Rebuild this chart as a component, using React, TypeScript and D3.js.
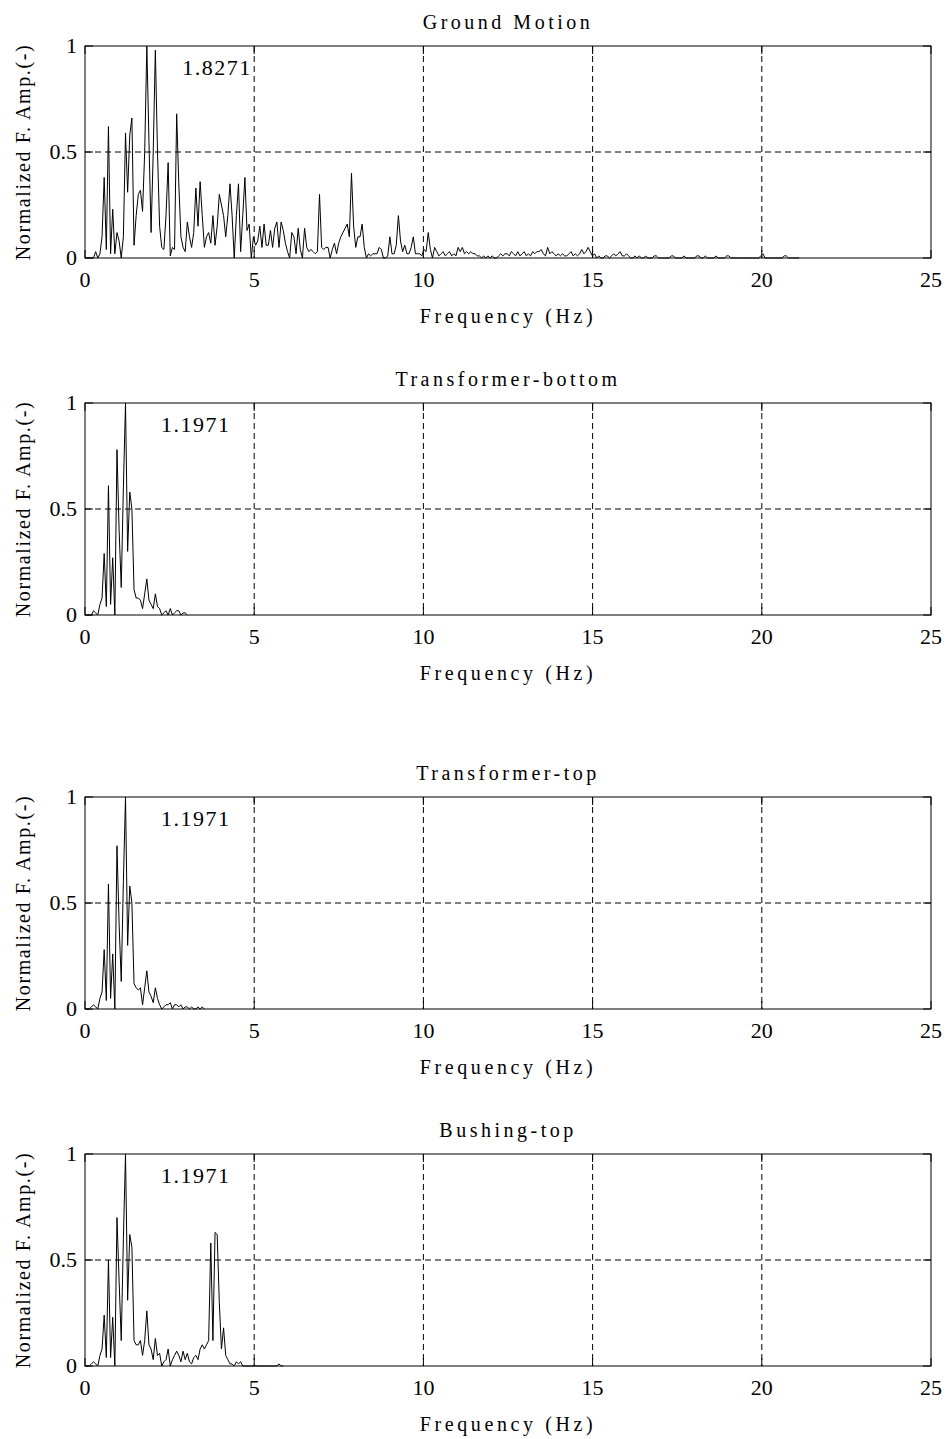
import React from 'react';
import * as d3 from 'd3';

// frequency resolution of the spectra (Hz per sample)
const DF = 0.063;

const groundMotion = [
  0, 0, 0, 0, 0, 0.03, 0, 0.02, 0.1, 0.38,
  0.04, 0.62, 0.02, 0.23, 0.02, 0.12, 0.08, 0, 0.1, 0.59,
  0.31, 0.58, 0.66, 0.06, 0.2, 0.3, 0.32, 0.22, 0.5, 1.0,
  0.55, 0.12, 0.5, 0.98, 0.5, 0.15, 0.05, 0.04, 0.2, 0.45,
  0.01, 0.05, 0.04, 0.68, 0.35, 0.1, 0.05, 0.03, 0.17, 0.1,
  0.05, 0.12, 0.33, 0.15, 0.36, 0.2, 0.05, 0.1, 0.12, 0.07,
  0.2, 0.06, 0.15, 0.3, 0.25, 0.2, 0.1, 0.2, 0.35, 0.2,
  0, 0.2, 0.35, 0.03, 0.2, 0.38, 0.13, 0.16, 0, 0.1,
  0.06, 0.08, 0.15, 0.05, 0.16, 0.06, 0.06, 0.13, 0.05, 0.14,
  0.17, 0.05, 0.17, 0.13, 0.07, 0.03, 0, 0.12, 0.1, 0.02,
  0.14, 0.04, 0, 0.14, 0.05, 0.03, 0.04, 0.03, 0.02, 0.03,
  0.3, 0.05, 0.04, 0.05, 0.05, 0, 0.04, 0.07, 0.02, 0.07,
  0.1, 0.12, 0.14, 0.16, 0.1, 0.4, 0.15, 0.05, 0.1, 0.1,
  0.16, 0.05, 0, 0.02, 0.01, 0.02, 0.02, 0.02, 0.05, 0.04,
  0, 0, 0.01, 0.1, 0.02, 0.02, 0.06, 0.2, 0.08, 0.03,
  0.06, 0.02, 0.02, 0.05, 0.1, 0.02, 0.02, 0.02, 0.01, 0.04,
  0.03, 0.12, 0.04, 0, 0.05, 0.03, 0.01, 0.02, 0.03, 0.01,
  0.02, 0.03, 0.01, 0.02, 0.01, 0.05, 0.03, 0.05, 0.02, 0.03,
  0.02, 0.03, 0.02, 0.02, 0.01, 0.01, 0, 0.01, 0, 0.01,
  0, 0.01, 0, 0, 0.01, 0.02, 0.01, 0.02, 0.02, 0.01,
  0.03, 0.02, 0.01, 0.03, 0.01, 0.02, 0.03, 0.01, 0.02, 0.01,
  0.03, 0.02, 0.03, 0.03, 0.04, 0.02, 0.01, 0.05, 0.02, 0.03,
  0.02, 0.01, 0.02, 0.01, 0.02, 0.01, 0.01, 0.02, 0.03, 0.01,
  0.02, 0.01, 0.02, 0.04, 0.02, 0.03, 0.05, 0.03, 0.01, 0.02,
  0, 0.01, 0, 0, 0.01, 0.01, 0, 0.01, 0.02, 0.01,
  0.02, 0.03, 0.01, 0.01, 0.02, 0.01, 0, 0, 0.01, 0,
  0.01, 0, 0, 0.01, 0, 0, 0, 0.01, 0.01, 0,
  0, 0, 0, 0, 0, 0.01, 0.01, 0, 0, 0,
  0, 0.01, 0, 0, 0, 0, 0, 0.01, 0.01, 0,
  0, 0.01, 0, 0, 0, 0, 0.01, 0, 0, 0,
  0, 0.01, 0.01, 0, 0, 0, 0, 0, 0, 0,
  0, 0, 0, 0, 0, 0, 0, 0.01, 0.02, 0,
  0, 0, 0, 0, 0, 0, 0, 0, 0.01, 0.01,
  0, 0, 0, 0, 0, 0,
];

const transformerBottom = [
  0, 0, 0, 0, 0.02, 0.01, 0, 0.05, 0.08, 0.29,
  0.04, 0.61, 0.05, 0.27, 0, 0.78, 0.4, 0.13, 0.6, 1.0,
  0.3, 0.58, 0.5, 0.12, 0.08, 0.08, 0.07, 0.03, 0.1, 0.17,
  0.07, 0.05, 0.03, 0.1, 0.04, 0.03, 0, 0.01, 0.02, 0,
  0.03, 0, 0.01, 0.02, 0.02, 0, 0.01, 0.01, 0,
];

const transformerTop = [
  0, 0, 0, 0.01, 0.02, 0.01, 0, 0.05, 0.08, 0.28,
  0.04, 0.59, 0.05, 0.26, 0, 0.77, 0.4, 0.13, 0.6, 1.0,
  0.3, 0.58, 0.5, 0.12, 0.1, 0.09, 0.1, 0.02, 0.1, 0.18,
  0.08, 0.06, 0.03, 0.1, 0.05, 0.02, 0, 0.01, 0.02, 0.02,
  0.03, 0, 0.02, 0.02, 0.01, 0.02, 0, 0.01, 0.01, 0,
  0.01, 0, 0, 0.01, 0, 0.01, 0,
];

const bushingTop = [
  0, 0, 0, 0.01, 0.02, 0.01, 0, 0.05, 0.08, 0.24,
  0.04, 0.5, 0.04, 0.23, 0, 0.7, 0.4, 0.12, 0.6, 1.0,
  0.31, 0.62, 0.56, 0.12, 0.1, 0.1, 0.12, 0.05, 0.12, 0.26,
  0.1, 0.08, 0.03, 0.13, 0.05, 0.06, 0, 0.02, 0.03, 0.08,
  0, 0.03, 0.05, 0.07, 0.05, 0.02, 0.07, 0.03, 0.06, 0.02,
  0.01, 0.04, 0.05, 0.03, 0.08, 0.1, 0.08, 0.1, 0.12, 0.58,
  0.12, 0.63, 0.62, 0.3, 0.08, 0.18, 0.05, 0.03, 0.01, 0.01,
  0, 0.02, 0.01, 0.02, 0, 0, 0, 0, 0, 0,
  0, 0, 0, 0, 0, 0, 0, 0, 0, 0,
  0, 0.01, 0, 0,
];

const panelTitles = ['Ground Motion', 'Transformer-bottom', 'Transformer-top', 'Bushing-top'];
const peakFreqs = [1.8271, 1.1971, 1.1971, 1.1971];
const peakLabels = ['1.8271', '1.1971', '1.1971', '1.1971'];
const xTicks = [0, 5, 10, 15, 20, 25];
const xTickLabels = ['0', '5', '10', '15', '20', '25'];
const yTicks = [0, 0.5, 1];
const yTickLabels = ['0', '0.5', '1'];
const xLabel = 'Frequency (Hz)';
const yLabel = 'Normalized F. Amp.(-)';

const series = [groundMotion, transformerBottom, transformerTop, bushingTop];

const W = 948;
const H = 1439;
const LEFT = 85;
const RIGHT = 931;
const PH = 212;
const TOPS = [46, 403, 797, 1154];
const FONT = '"Liberation Serif", "Times New Roman", serif';

function Panel({ idx }: { idx: number }) {
  const top = TOPS[idx];
  const bottom = top + PH;
  const x = d3.scaleLinear().domain([0, 25]).range([LEFT, RIGHT]);
  const y = d3.scaleLinear().domain([0, 1]).range([bottom, top]);
  const data = series[idx];
  const line = d3
    .line<number>()
    .x((_, i) => x(i * DF))
    .y((d) => y(d));
  const tickLen = 8;
  const midY = (top + bottom) / 2;
  return (
    <g>
      {/* grid */}
      {xTicks.slice(1, -1).map((t) => (
        <line key={'gx' + t} x1={x(t)} x2={x(t)} y1={top} y2={bottom} stroke="#000" strokeWidth={1} strokeDasharray="6,4" />
      ))}
      {yTicks.slice(1, -1).map((t) => (
        <line key={'gy' + t} x1={LEFT} x2={RIGHT} y1={y(t)} y2={y(t)} stroke="#000" strokeWidth={1} strokeDasharray="6,4" />
      ))}
      {/* data */}
      <path d={line(data) || ''} fill="none" stroke="#000" strokeWidth={1} />
      {/* ticks */}
      {xTicks.map((t) => (
        <g key={'tx' + t}>
          <line x1={x(t)} x2={x(t)} y1={bottom} y2={bottom - tickLen} stroke="#000" />
          <line x1={x(t)} x2={x(t)} y1={top} y2={top + tickLen} stroke="#000" />
        </g>
      ))}
      {yTicks.map((t) => (
        <g key={'ty' + t}>
          <line x1={LEFT} x2={LEFT + tickLen} y1={y(t)} y2={y(t)} stroke="#000" />
          <line x1={RIGHT} x2={RIGHT - tickLen} y1={y(t)} y2={y(t)} stroke="#000" />
        </g>
      ))}
      {/* box */}
      <rect x={LEFT} y={top} width={RIGHT - LEFT} height={PH} fill="none" stroke="#000" strokeWidth={1} />
      {/* tick labels */}
      {xTicks.map((t, i) => (
        <text key={'lx' + t} x={x(t)} y={bottom + 29} textAnchor="middle" fontSize={22} fontFamily={FONT}>
          {xTickLabels[i]}
        </text>
      ))}
      {yTicks.map((t, i) => (
        <text key={'ly' + t} x={LEFT - 8} y={y(t) + 7} textAnchor="end" fontSize={22} fontFamily={FONT}>
          {yTickLabels[i]}
        </text>
      ))}
      {/* title */}
      <text x={(LEFT + RIGHT) / 2} y={top - 17} textAnchor="middle" fontSize={20} fontFamily={FONT} style={{ letterSpacing: '3.5px' }}>
        {panelTitles[idx]}
      </text>
      {/* x label */}
      <text x={(LEFT + RIGHT) / 2} y={bottom + 65} textAnchor="middle" fontSize={20} fontFamily={FONT} style={{ letterSpacing: '3.6px' }}>
        {xLabel}
      </text>
      {/* y label */}
      <text
        transform={`translate(30, ${midY}) rotate(-90)`}
        textAnchor="middle"
        fontSize={20}
        fontFamily={FONT}
        style={{ letterSpacing: '1.6px' }}
      >
        {yLabel}
      </text>
      {/* peak annotation */}
      <text x={x(peakFreqs[idx] + 1.05)} y={y(0.9) + 8} fontSize={22} fontFamily={FONT} style={{ letterSpacing: '1.5px' }}>
        {peakLabels[idx]}
      </text>
    </g>
  );
}

export default function App() {
  return (
    <svg
      width={W}
      height={H}
      viewBox={`0 0 ${W} ${H}`}
      style={{ position: 'absolute', left: 0, top: 0, background: '#fff' }}
    >
      <rect x={0} y={0} width={W} height={H} fill="#fff" />
      {TOPS.map((_, i) => (
        <Panel key={i} idx={i} />
      ))}
    </svg>
  );
}
